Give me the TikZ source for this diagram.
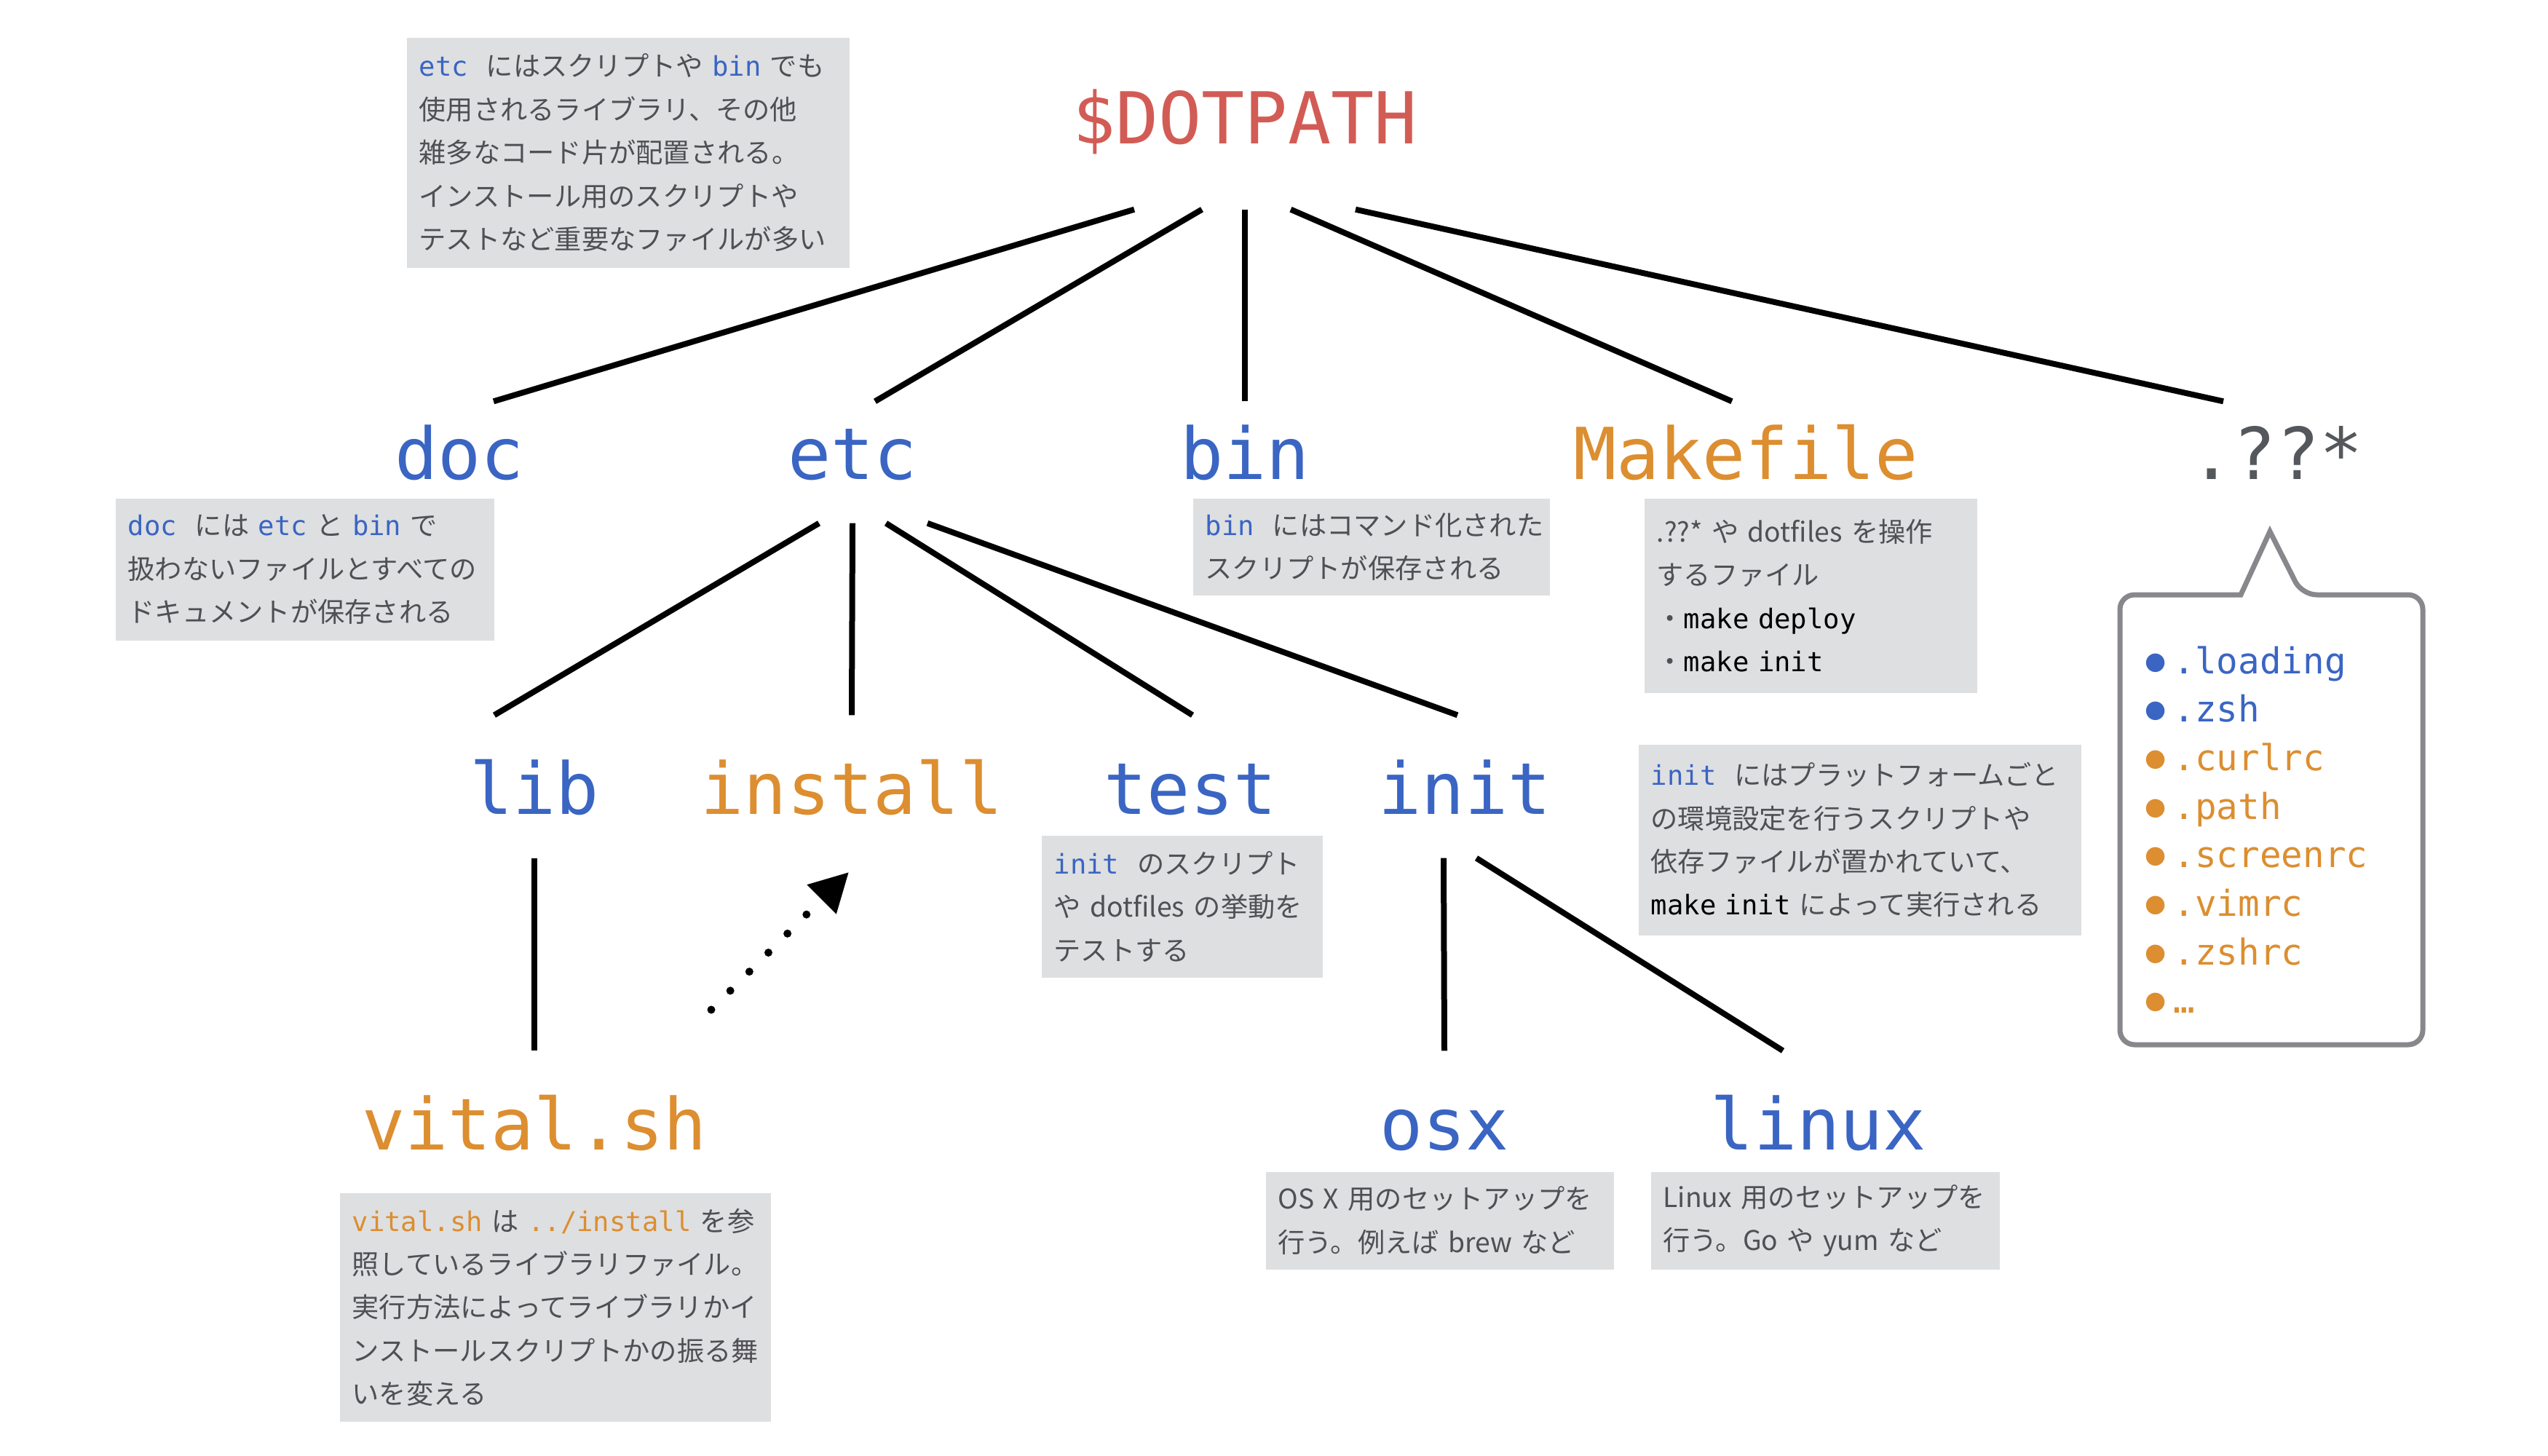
\documentclass[tikz,border=0pt]{standalone}
\usepackage{fontspec}
\setmainfont{Noto Sans CJK JP}
\setmonofont{DejaVu Sans Mono}
\newfontfamily\bulletfont{DejaVu Sans}
\usetikzlibrary{arrows.meta}

\definecolor{rootred}{RGB}{210,92,85}
\definecolor{dirblue}{RGB}{58,101,195}
\definecolor{dirorange}{RGB}{220,142,48}
\definecolor{dotgray}{RGB}{84,88,93}
\definecolor{notegray}{RGB}{222,223,225}
\definecolor{notetext}{RGB}{80,80,84}
\definecolor{calloutgray}{RGB}{135,135,140}

\newcommand\bluett[1]{\textcolor{dirblue}{\texttt{#1}}}
\newcommand\orangett[1]{\textcolor{dirorange}{\texttt{#1}}}
\newcommand\blacktt[1]{\textcolor{black}{\texttt{#1}}}
\newcommand\listbullet{\makebox[0.5cm][c]{\raisebox{0.06cm}{\bulletfont\fontsize{9.5}{9.5}\selectfont ●}}}

\tikzset{
  dirlabel/.style={font=\ttfamily\fontsize{28}{28}\selectfont, inner sep=0pt, anchor=base, text height=1.35cm, text depth=0.6cm},
  toprow/.style={text height=1.06cm},
  branch/.style={line width=0.08cm},
  note/.style={fill=notegray, text=notetext, anchor=north west, inner xsep=0.17cm, inner ysep=0pt, align=left, font=\fontsize{10.6}{16.9}\selectfont},
  listitem/.style={anchor=base west, inner sep=0pt, font=\fontsize{14}{14}\selectfont},
  callout/.style={draw=calloutgray, line width=0.07cm, rounded corners=0.2cm},
  refarrow/.style={line width=0.11cm, line cap=round, dash pattern=on 0pt off 0.37cm, -{Triangle[length=0.53cm,width=0.54cm]}}
}

\begin{document}
\begin{tikzpicture}
\fill[white] (0,0) rectangle (35,-20);
\useasboundingbox (0,0) rectangle (35,-20);

\node[dirlabel, text=rootred, text depth=0.9cm] (root) at (17.10,-1.97) {\$DOTPATH};

\node[dirlabel, toprow, text=dirblue] (doc) at (6.31,-6.58) {doc};
\node[dirlabel, toprow, text=dirblue] (etc) at (11.71,-6.58) {etc};
\node[dirlabel, toprow, text=dirblue] (bin) at (17.10,-6.58) {bin};
\node[dirlabel, toprow, text=dirorange] (makefile) at (23.98,-6.58) {Makefile};
\node[dirlabel, toprow, text=dotgray] (dotfiles) at (31.27,-6.58) {.??*};

\node[dirlabel, text=dirblue] (lib) at (7.34,-11.18) {lib};
\node[dirlabel, text=dirorange] (install) at (11.70,-11.18) {install};
\node[dirlabel, text=dirblue] (test) at (16.35,-11.18) {test};
\node[dirlabel, text=dirblue] (init) at (20.12,-11.18) {init};

\node[dirlabel, text=dirorange] (vital) at (7.34,-15.79) {vital.sh};
\node[dirlabel, text=dirblue] (osx) at (19.84,-15.79) {osx};
\node[dirlabel, text=dirblue] (linux) at (24.98,-15.79) {linux};

\draw[branch] ([xshift=-1.52cm]root.south) -- ([xshift=0.47cm]doc.north);
\draw[branch] ([xshift=-0.59cm]root.south) -- ([xshift=0.31cm]etc.north);
\draw[branch] (root.south) -- (bin.north);
\draw[branch] ([xshift=0.63cm]root.south) -- ([xshift=-0.19cm]makefile.north);
\draw[branch] ([xshift=1.52cm]root.south) -- ([xshift=-0.73cm]dotfiles.north);
\draw[branch] ([xshift=-0.46cm]etc.south) -- ([xshift=-0.55cm]lib.north);
\draw[branch] (etc.south) -- (install.north);
\draw[branch] ([xshift=0.46cm]etc.south) -- ([xshift=0.03cm]test.north);
\draw[branch] ([xshift=1.03cm]etc.south) -- ([xshift=-0.10cm]init.north);
\draw[branch] (lib.south) -- (vital.north);
\draw[branch] ([xshift=-0.29cm]init.south) -- (osx.north);
\draw[branch] ([xshift=0.16cm]init.south) -- ([xshift=-0.49cm]linux.north);

\coordinate (refstart) at (9.77,-13.87);
\coordinate (reftip) at (11.66,-11.98);
\draw[refarrow] (refstart) -- (reftip);

\node[note, text width=5.74cm, minimum height=3.16cm] (etcnote) at (5.58,-0.51) {\bluett{etc}~~にはスクリプトや~\bluett{bin}~でも\\使用されるライブラリ、その他\\雑多なコード片が配置される。\\インストール用のスクリプトや\\テストなど重要なファイルが多い};
\node[note, text width=4.86cm, minimum height=1.95cm] (docnote) at (1.58,-6.84) {\bluett{doc}~~には~\bluett{etc}~と~\bluett{bin}~で\\扱わないファイルとすべての\\ドキュメントが保存される};
\node[note, text width=4.56cm, minimum height=1.33cm] (binnote) at (16.38,-6.84) {\bluett{bin}~~にはコマンド化された\\スクリプトが保存される};
\node[note, text width=4.23cm, minimum height=2.67cm] (makenote) at (22.58,-6.84) {.??*~や~dotfiles~を操作\\するファイル\\・\blacktt{make~deploy}\\・\blacktt{make~init}};
\node[note, text width=3.52cm, minimum height=1.95cm] (testnote) at (14.30,-11.47) {\bluett{init}~~のスクリプト\\や~dotfiles~の挙動を\\テストする};
\node[note, text width=5.74cm, minimum height=2.62cm] (initnote) at (22.50,-10.22) {\bluett{init}~~にはプラットフォームごと\\の環境設定を行うスクリプトや\\依存ファイルが置かれていて、\\\blacktt{make~init}~によって実行される};
\node[note, text width=5.58cm, minimum height=3.14cm] (vitalnote) at (4.66,-16.38) {\orangett{vital.sh}~は~\orangett{../install}~を参\\照しているライブラリファイル。\\実行方法によってライブラリかイ\\ンストールスクリプトかの振る舞\\いを変える};
\node[note, text width=4.44cm, minimum height=1.34cm] (osxnote) at (17.38,-16.09) {OS~X~用のセットアップを\\行う。例えば~brew~など};
\node[note, text width=4.45cm, minimum height=1.34cm] (linuxnote) at (22.67,-16.09) {Linux~用のセットアップを\\行う。Go~や~yum~など};

\draw[callout] (30.78,-8.17) -- (29.12,-8.17) -- (29.12,-14.35) -- (33.28,-14.35) -- (33.28,-8.17) -- (31.62,-8.17) [sharp corners] -- (31.18,-7.30) -- cycle;
\foreach \file/\col [count=\i from 0] in {.loading/dirblue,.zsh/dirblue,.curlrc/dirorange,.path/dirorange,.screenrc/dirorange,.vimrc/dirorange,.zshrc/dirorange,…/dirorange}
  \node[listitem, text=\col] (item\i) at (29.35,-9.25-0.667*\i) {\listbullet\texttt{\file}};
\end{tikzpicture}
\end{document}
